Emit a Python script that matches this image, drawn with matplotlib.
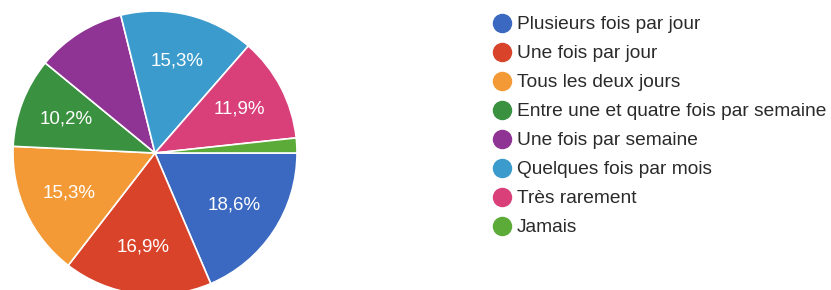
import matplotlib
matplotlib.use("Agg")
import matplotlib.pyplot as plt
import numpy as np

categories = ["Plusieurs fois par jour", "Une fois par jour", "Tous les deux jours",
              "Entre une et quatre fois par semaine", "Une fois par semaine",
              "Quelques fois par mois", "Très rarement", "Jamais"]
percentages = [18.6, 16.9, 15.3, 10.2, 10.2, 15.3, 11.9, 1.7]
slice_labels = ["18,6%", "16,9%", "15,3%", "10,2%", "", "15,3%", "11,9%", ""]
colors = ["#3b68c0", "#d8432a", "#f39a36", "#3a9140", "#8f3494", "#3a9bcc", "#d9407a", "#5cab38"]

W, H = 831, 290
fig = plt.figure(figsize=(W / 100, H / 100), dpi=100)
plt.rcParams['font.family'] = ['Liberation Sans', 'DejaVu Sans']

cx, cy, r = 155, 153, 142
ax = fig.add_axes([(cx - r) / W, (H - cy - r) / H, 2 * r / W, 2 * r / H])
wedges, _ = ax.pie(percentages, colors=colors, startangle=0, counterclock=False,
                   wedgeprops=dict(edgecolor="white", linewidth=1.2))
for w, lab in zip(wedges, slice_labels):
    if not lab:
        continue
    ang = np.deg2rad((w.theta1 + w.theta2) / 2)
    ax.text(0.67 * np.cos(ang), 0.67 * np.sin(ang), lab, color="white",
            ha="center", va="center", fontsize=13.5)
ax.set_xlim(-1, 1)
ax.set_ylim(-1, 1)
ax.set_aspect("equal")
ax.axis("off")

y0, dy = 23, 29
for i, (cat, col) in enumerate(zip(categories, colors)):
    y = 1 - (y0 + i * dy) / H
    fig.lines.append(plt.Line2D([502 / W], [y], marker="o", markersize=13,
                                color=col, transform=fig.transFigure))
    fig.text(517 / W, y - 1.5 / H, cat, ha="left", va="center", fontsize=13.8, color="#2a2a2a")

fig.savefig("out.png", dpi=100)
